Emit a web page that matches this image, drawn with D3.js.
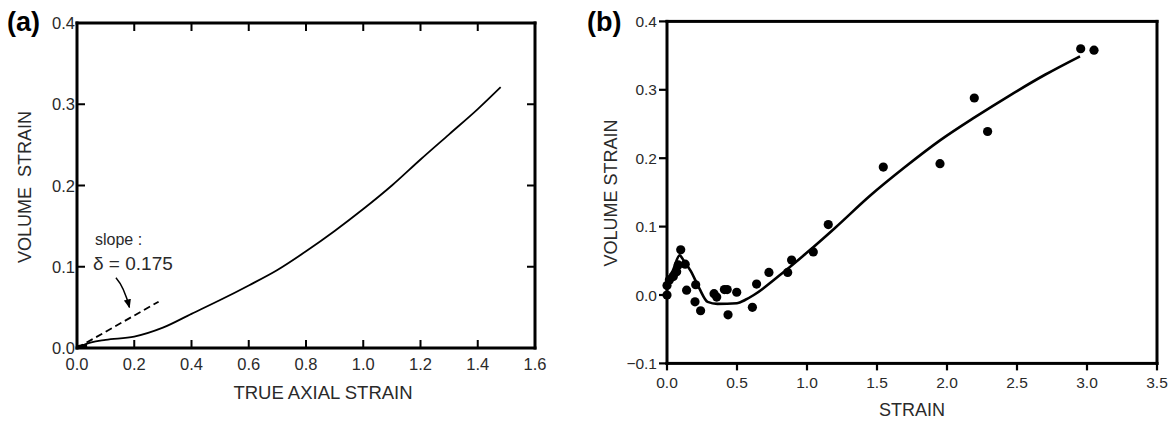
<!DOCTYPE html>
<html><head><meta charset="utf-8">
<script src="https://cdn.jsdelivr.net/npm/d3@7"></script>
<style>
html,body{margin:0;padding:0;background:#fff;}
svg{display:block;}
text{font-family:Arial,"Liberation Sans",sans-serif;}
</style></head>
<body>
<svg id="c" width="1176" height="421"></svg>
<script>
// ---- Panel (a) data ----
const aCurveX = [0,0.05,0.1,0.2,0.3,0.4,0.5,0.6,0.7,0.8,0.9,1.0,1.1,1.2,1.3,1.4,1.48];
const aCurveY = [0,0.007,0.01,0.014,0.025,0.042,0.059,0.077,0.096,0.119,0.144,0.171,0.2,0.232,0.263,0.294,0.321];
const aDashX = [0,0.285];
const aDashY = [0,0.057];
const aXTicks = [0.0,0.2,0.4,0.6,0.8,1.0,1.2,1.4,1.6];
const aYTicks = [0.0,0.1,0.2,0.3,0.4];
// ---- Panel (b) data ----
const bPtsX = [0,0,0.017,0.045,0.069,0.08,0.098,0.13,0.14,0.205,0.2,0.24,0.336,0.355,0.41,0.43,0.436,0.498,0.61,0.64,0.728,0.862,0.89,1.045,1.152,1.545,1.95,2.195,2.29,2.955,3.05];
const bPtsY = [0,0.014,0.022,0.027,0.034,0.044,0.066,0.045,0.007,0.015,-0.01,-0.023,0.002,-0.003,0.008,0.008,-0.029,0.004,-0.018,0.016,0.033,0.033,0.051,0.063,0.103,0.187,0.192,0.288,0.239,0.36,0.358];
const bLineX = [0,0.04,0.09,0.12,0.17,0.23,0.29,0.36,0.5,0.56,0.62,0.8,1.0,1.2,1.45,1.7,1.95,2.2,2.45,2.7,2.95];
const bLineY = [0.022,0.035,0.058,0.05,0.035,0.01,-0.01,-0.013,-0.012,-0.007,0.0,0.028,0.062,0.098,0.145,0.187,0.226,0.26,0.292,0.322,0.349];
const bXTicks = [0.0,0.5,1.0,1.5,2.0,2.5,3.0,3.5];
const bYTicks = [-0.1,0.0,0.1,0.2,0.3,0.4];

const svg = d3.select("#c");
const fmt = d3.format(".1f");
const ink = "#000", txt = "#2a2a2a";

function vTicks(g, vals, scale, y0, len, w){
  g.append("g").selectAll("rect").data(vals).join("rect")
    .attr("x",d=>scale(d)-w/2).attr("width",w)
    .attr("y",Math.min(y0,y0+len)).attr("height",Math.abs(len))
    .attr("fill",ink);
}
function hTicks(g, vals, scale, x0, len, w){
  g.append("g").selectAll("rect").data(vals).join("rect")
    .attr("y",d=>scale(d)-w/2).attr("height",w)
    .attr("x",Math.min(x0,x0+len)).attr("width",Math.abs(len))
    .attr("fill",ink);
}
function frame(g, x, y, w, h, t){
  const bars = [[x-t/2,y-t/2,w+t,t],[x-t/2,y+h-t/2,w+t,t],[x-t/2,y-t/2,t,h+t],[x+w-t/2,y-t/2,t,h+t]];
  g.append("g").selectAll("rect").data(bars).join("rect")
    .attr("x",d=>d[0]).attr("y",d=>d[1]).attr("width",d=>d[2]).attr("height",d=>d[3]).attr("fill",ink);
}

// ===== Panel (a) =====
const ax = d3.scaleLinear().domain([0,1.6]).range([77,535]);
const ay = d3.scaleLinear().domain([0,0.4]).range([348,23]);
const ga = svg.append("g");
frame(ga, ax(0), ay(0.4), ax(1.6)-ax(0), ay(0)-ay(0.4), 3);
vTicks(ga, aXTicks.slice(1,-1), ax, 348, -8, 2);
vTicks(ga, aXTicks.slice(1,-1), ax, 23, 8, 2);
hTicks(ga, aYTicks.slice(1,-1), ay, 77, 8, 2);
hTicks(ga, aYTicks.slice(1,-1), ay, 535, -8, 2);
ga.selectAll(".axl").data(aXTicks).join("text").attr("x",d=>ax(d)).attr("y",370)
  .attr("text-anchor","middle").attr("font-size",16.5).attr("fill",txt).text(fmt);
ga.selectAll(".ayl").data(aYTicks).join("text").attr("x",75).attr("y",d=>ay(d)+6)
  .attr("text-anchor","end").attr("font-size",16.5).attr("fill",txt).text(fmt);
ga.append("text").attr("x",323).attr("y",399).attr("text-anchor","middle")
  .attr("font-size",18.5).attr("fill",txt).text("TRUE AXIAL STRAIN");
ga.append("text").attr("transform","translate(31,187) rotate(-90)").attr("text-anchor","middle")
  .attr("font-size",18).attr("fill",txt).attr("xml:space","preserve").text("VOLUME  STRAIN");
ga.append("text").attr("x",7).attr("y",31).attr("font-family","'Liberation Serif','Times New Roman',serif")
  .attr("font-weight","bold").attr("font-size",27).attr("fill",ink).text("(a)");
ga.append("path").datum(aCurveX.map((x,i)=>[x,aCurveY[i]]))
  .attr("d",d3.line().x(d=>ax(d[0])).y(d=>ay(d[1])).curve(d3.curveMonotoneX))
  .attr("fill","none").attr("stroke",ink).attr("stroke-width",1.8);
ga.append("path").datum(aDashX.map((x,i)=>[x,aDashY[i]]))
  .attr("d",d3.line().x(d=>ax(d[0])).y(d=>ay(d[1]))).attr("fill","none")
  .attr("stroke",ink).attr("stroke-width",1.8).attr("stroke-dasharray","7,4");
ga.append("path").datum([[0,0.001],[0.035,0.003]]).attr("d",d3.line().x(d=>ax(d[0])).y(d=>ay(d[1])))
  .attr("stroke",ink).attr("stroke-width",4).attr("fill","none");
ga.append("text").attr("x",95).attr("y",245).attr("font-size",16).attr("fill",txt).text("slope :");
ga.append("text").attr("x",93).attr("y",270).attr("font-size",19).attr("fill",txt).text("δ = 0.175");
svg.append("defs").append("marker").attr("id","arr").attr("viewBox","0 0 10 10")
  .attr("refX",9).attr("refY",5).attr("markerWidth",6).attr("markerHeight",6).attr("orient","auto")
  .append("path").attr("d","M0,1 L10,5 L0,9 Z").attr("fill",ink);
ga.append("path").attr("d",`M${ax(0.136)},${ay(0.0865)} Q${ax(0.165)},${ay(0.075)} ${ax(0.183)},${ay(0.05)}`)
  .attr("fill","none").attr("stroke",ink).attr("stroke-width",1.5).attr("marker-end","url(#arr)");

// ===== Panel (b) =====
const bx = d3.scaleLinear().domain([0,3.5]).range([667,1157]);
const by = d3.scaleLinear().domain([-0.1,0.4]).range([363.4,21.4]);
const gb = svg.append("g");
frame(gb, bx(0), by(0.4), bx(3.5)-bx(0), by(-0.1)-by(0.4), 3);
vTicks(gb, bXTicks, bx, 363.4, 7, 2.2);
hTicks(gb, bYTicks, by, 667, -8, 2.2);
gb.selectAll(".bxl").data(bXTicks).join("text").attr("x",d=>bx(d)).attr("y",388)
  .attr("text-anchor","middle").attr("font-size",15.5).attr("fill",txt).text(fmt);
gb.selectAll(".byl").data(bYTicks).join("text").attr("x",657).attr("y",d=>by(d)+5.5)
  .attr("text-anchor","end").attr("font-size",15.5).attr("fill",txt).text(fmt);
gb.append("text").attr("x",912).attr("y",416).attr("text-anchor","middle")
  .attr("font-size",18).attr("fill",txt).text("STRAIN");
gb.append("text").attr("transform","translate(617,193) rotate(-90)").attr("text-anchor","middle")
  .attr("font-size",18).attr("fill",txt).text("VOLUME STRAIN");
gb.append("text").attr("x",587).attr("y",31).attr("font-family","'Liberation Serif','Times New Roman',serif")
  .attr("font-weight","bold").attr("font-size",27).attr("fill",ink).text("(b)");
gb.append("path").datum(bLineX.map((x,i)=>[x,bLineY[i]]))
  .attr("d",d3.line().x(d=>bx(d[0])).y(d=>by(d[1])).curve(d3.curveMonotoneX))
  .attr("fill","none").attr("stroke",ink).attr("stroke-width",2.6);
gb.selectAll(".pt").data(bPtsX.map((x,i)=>[x,bPtsY[i]])).join("circle")
  .attr("cx",d=>bx(d[0])).attr("cy",d=>by(d[1])).attr("r",4.6).attr("fill",ink);
</script>
</body></html>
